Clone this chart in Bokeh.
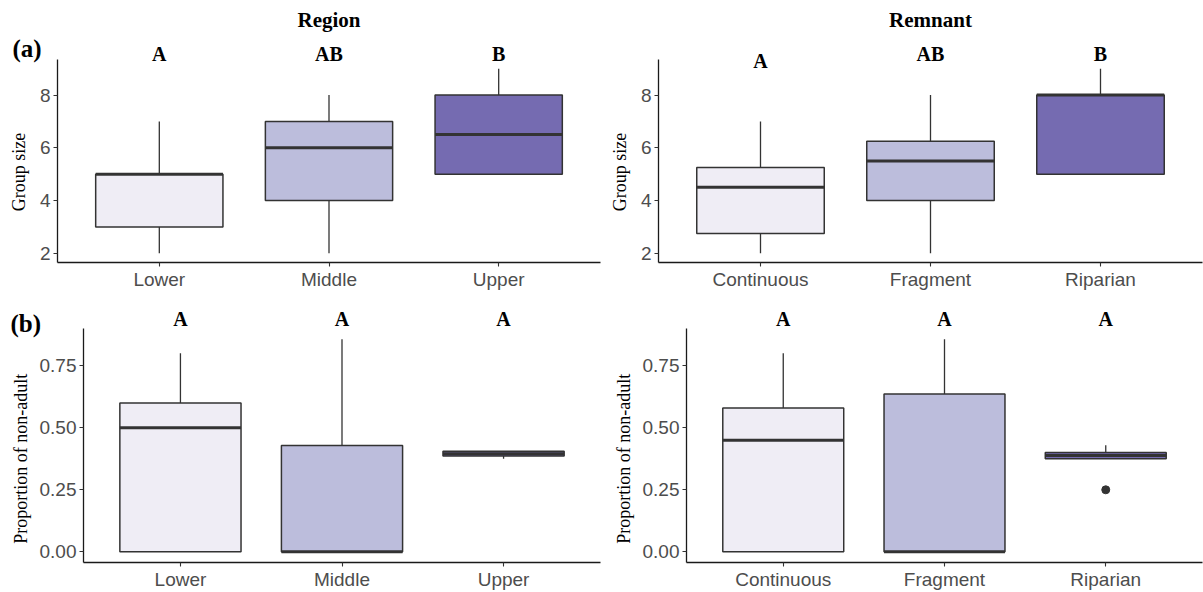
from bokeh.plotting import figure
from bokeh.models import (ColumnDataSource, FactorRange, Range1d, FixedTicker, LabelSet,
                          NumeralTickFormatter, Title)
from bokeh.transform import dodge
from bokeh.layouts import column, row
from bokeh.embed import file_html
from bokeh.resources import INLINE

# ---------------- data ----------------
region_cats = ["Lower", "Middle", "Upper"]
remnant_cats = ["Continuous", "Fragment", "Riparian"]
fill_colors = ["#EFEDF5", "#BCBDDC", "#756BB1"]

# (a) Group size by Region
gs_region_lo = [2, 2, 5]
gs_region_q1 = [3, 4, 5]
gs_region_med = [5, 6, 6.5]
gs_region_q3 = [5, 7, 8]
gs_region_hi = [7, 8, 9]
gs_region_letters = ["A", "AB", "B"]

# (a) Group size by Remnant
gs_remnant_lo = [2, 2, 5]
gs_remnant_q1 = [2.75, 4, 5]
gs_remnant_med = [4.5, 5.5, 8]
gs_remnant_q3 = [5.25, 6.25, 8]
gs_remnant_hi = [7, 8, 9]
gs_remnant_letters = ["A", "AB", "B"]

# (b) Proportion of non-adult by Region
pn_region_lo = [0, 0, 0.375]
pn_region_q1 = [0, 0, 0.386]
pn_region_med = [0.5, 0, 0.395]
pn_region_q3 = [0.6, 0.429, 0.405]
pn_region_hi = [0.8, 0.857, 0.405]
pn_region_out_cat = []
pn_region_out = []
pn_region_letters = ["A", "A", "A"]

# (b) Proportion of non-adult by Remnant
pn_remnant_lo = [0, 0, 0.375]
pn_remnant_q1 = [0, 0, 0.375]
pn_remnant_med = [0.45, 0, 0.388]
pn_remnant_q3 = [0.58, 0.636, 0.40]
pn_remnant_hi = [0.8, 0.857, 0.43]
pn_remnant_out_cat = ["Riparian"]
pn_remnant_out = [0.25]
pn_remnant_letters = ["A", "A", "A"]

gs_ticks = [2, 4, 6, 8]
pn_ticks = [0, 0.25, 0.5, 0.75]

# ---------------- styling ----------------
SANS = "Liberation Sans"
SERIF = "Liberation Serif"
LINE = "#333333"
TICK_LABEL = "#4D4D4D"
NBSP = "\u00a0"


def make_panel(cats, lo, q1, med, q3, hi, out_cat, out_val, letters, letter_dy,
               ylabel, label_pad, yticks, yfmt, width, height, bl, br, bt, bb, panel_px,
               label_standoff, title=None, title_standoff=8,
               tag=None, tag_dx=0, tag_standoff=0):
    vals = lo + hi + out_val
    vmin, vmax = min(vals), max(vals)
    pad = 0.05 * (vmax - vmin)
    y0, y1 = vmin - pad, vmax + pad
    fh = height - bt - bb
    # extend the frame upward (room for letters) while the axis stops at the data panel
    y_end = y0 + (y1 - y0) * fh / panel_px
    p = figure(x_range=FactorRange(*cats, range_padding=0.1, range_padding_units="absolute"),
               y_range=Range1d(y0, y_end),
               width=width, height=height,
               min_border_left=bl, min_border_right=br, min_border_top=bt, min_border_bottom=bb,
               output_backend="svg", toolbar_location=None)
    p.outline_line_color = None
    p.xgrid.visible = False
    p.ygrid.visible = False
    p.background_fill_color = "white"
    p.border_fill_color = "white"

    for ax in (p.xaxis[0], p.yaxis[0]):
        ax.axis_line_color = "#1a1a1a"
        ax.axis_line_width = 1.3
        ax.major_tick_line_color = LINE
        ax.major_tick_line_width = 1.1
        ax.major_tick_in = 0
        ax.major_tick_out = 4
        ax.minor_tick_line_color = None
        ax.major_label_text_font = SANS
        ax.major_label_text_font_size = "19px"
        ax.major_label_text_color = TICK_LABEL
    p.xaxis.major_label_standoff = 2
    p.yaxis.major_label_standoff = 3
    p.yaxis.bounds = (y0, y1)
    p.yaxis.ticker = FixedTicker(ticks=yticks)
    if yfmt:
        p.yaxis.formatter = NumeralTickFormatter(format=yfmt)
    # trailing no-break spaces keep the label centred on the data panel, not the taller frame
    p.yaxis.axis_label = ylabel + NBSP * label_pad
    p.yaxis.axis_label_text_font = SERIF
    p.yaxis.axis_label_text_font_style = "normal"
    p.yaxis.axis_label_text_font_size = "18px"
    p.yaxis.axis_label_text_color = "black"
    p.yaxis.axis_label_standoff = label_standoff

    src = ColumnDataSource(dict(cat=cats, lo=lo, q1=q1, med=med, q3=q3, hi=hi, fill=fill_colors))
    p.segment(x0="cat", x1="cat", y0="q3", y1="hi", source=src, line_color=LINE, line_width=1.3)
    p.segment(x0="cat", x1="cat", y0="lo", y1="q1", source=src, line_color=LINE, line_width=1.3)
    p.vbar(x="cat", bottom="q1", top="q3", width=0.75, source=src,
           fill_color="fill", line_color=LINE, line_width=1.5)
    p.segment(x0=dodge("cat", -0.375, range=p.x_range), x1=dodge("cat", 0.375, range=p.x_range),
              y0="med", y1="med", source=src, line_color=LINE, line_width=3)
    if out_val:
        p.scatter(x=out_cat, y=out_val, size=8, color=LINE)

    lsrc = ColumnDataSource(dict(cat=cats, text=letters, ly=[panel_px + d for d in letter_dy]))
    p.add_layout(LabelSet(x="cat", y="ly", y_units="screen", text="text", source=lsrc,
                          text_align="center", text_baseline="middle",
                          text_font=SERIF, text_font_style="bold", text_font_size="20px",
                          text_color="black"))
    if title:
        p.add_layout(Title(text=title, align="center", vertical_align="middle",
                           standoff=title_standoff, text_font=SERIF, text_font_style="bold",
                           text_font_size="21px", text_color="black"), "above")
    if tag:
        p.add_layout(Title(text=tag, align="left", vertical_align="top", offset=tag_dx,
                           standoff=tag_standoff, text_font=SERIF, text_font_style="bold",
                           text_font_size="25px", text_color="black"), "below")
    return p


p1 = make_panel(region_cats, gs_region_lo, gs_region_q1, gs_region_med, gs_region_q3, gs_region_hi,
                [], [], gs_region_letters, [5, 5, 5], "Group size", 10, gs_ticks, None,
                604, 292, 57, 4, 36, 29, 204, 8, title="Region",
                tag="(a)", tag_dx=-45, tag_standoff=-516)
p2 = make_panel(remnant_cats, gs_remnant_lo, gs_remnant_q1, gs_remnant_med, gs_remnant_q3, gs_remnant_hi,
                [], [], gs_remnant_letters, [-2, 5, 5], "Group size", 10, gs_ticks, None,
                599, 292, 54, 1, 36, 29, 204, 8, title="Remnant")
p3 = make_panel(region_cats, pn_region_lo, pn_region_q1, pn_region_med, pn_region_q3, pn_region_hi,
                pn_region_out_cat, pn_region_out, pn_region_letters, [10, 10, 10],
                "Proportion of non-adult", 11, pn_ticks, "0.00",
                604, 300, 83, 4, 13, 30, 234, 6, tag="(b)", tag_dx=-73, tag_standoff=-566)
p4 = make_panel(remnant_cats, pn_remnant_lo, pn_remnant_q1, pn_remnant_med, pn_remnant_q3, pn_remnant_hi,
                pn_remnant_out_cat, pn_remnant_out, pn_remnant_letters, [10, 10, 10],
                "Proportion of non-adult", 11, pn_ticks, "0.00",
                599, 300, 82, 1, 13, 30, 234, 6)

layout = column(row(p1, p2), row(p3, p4))
open("out.html", "w").write(file_html(layout, INLINE))
